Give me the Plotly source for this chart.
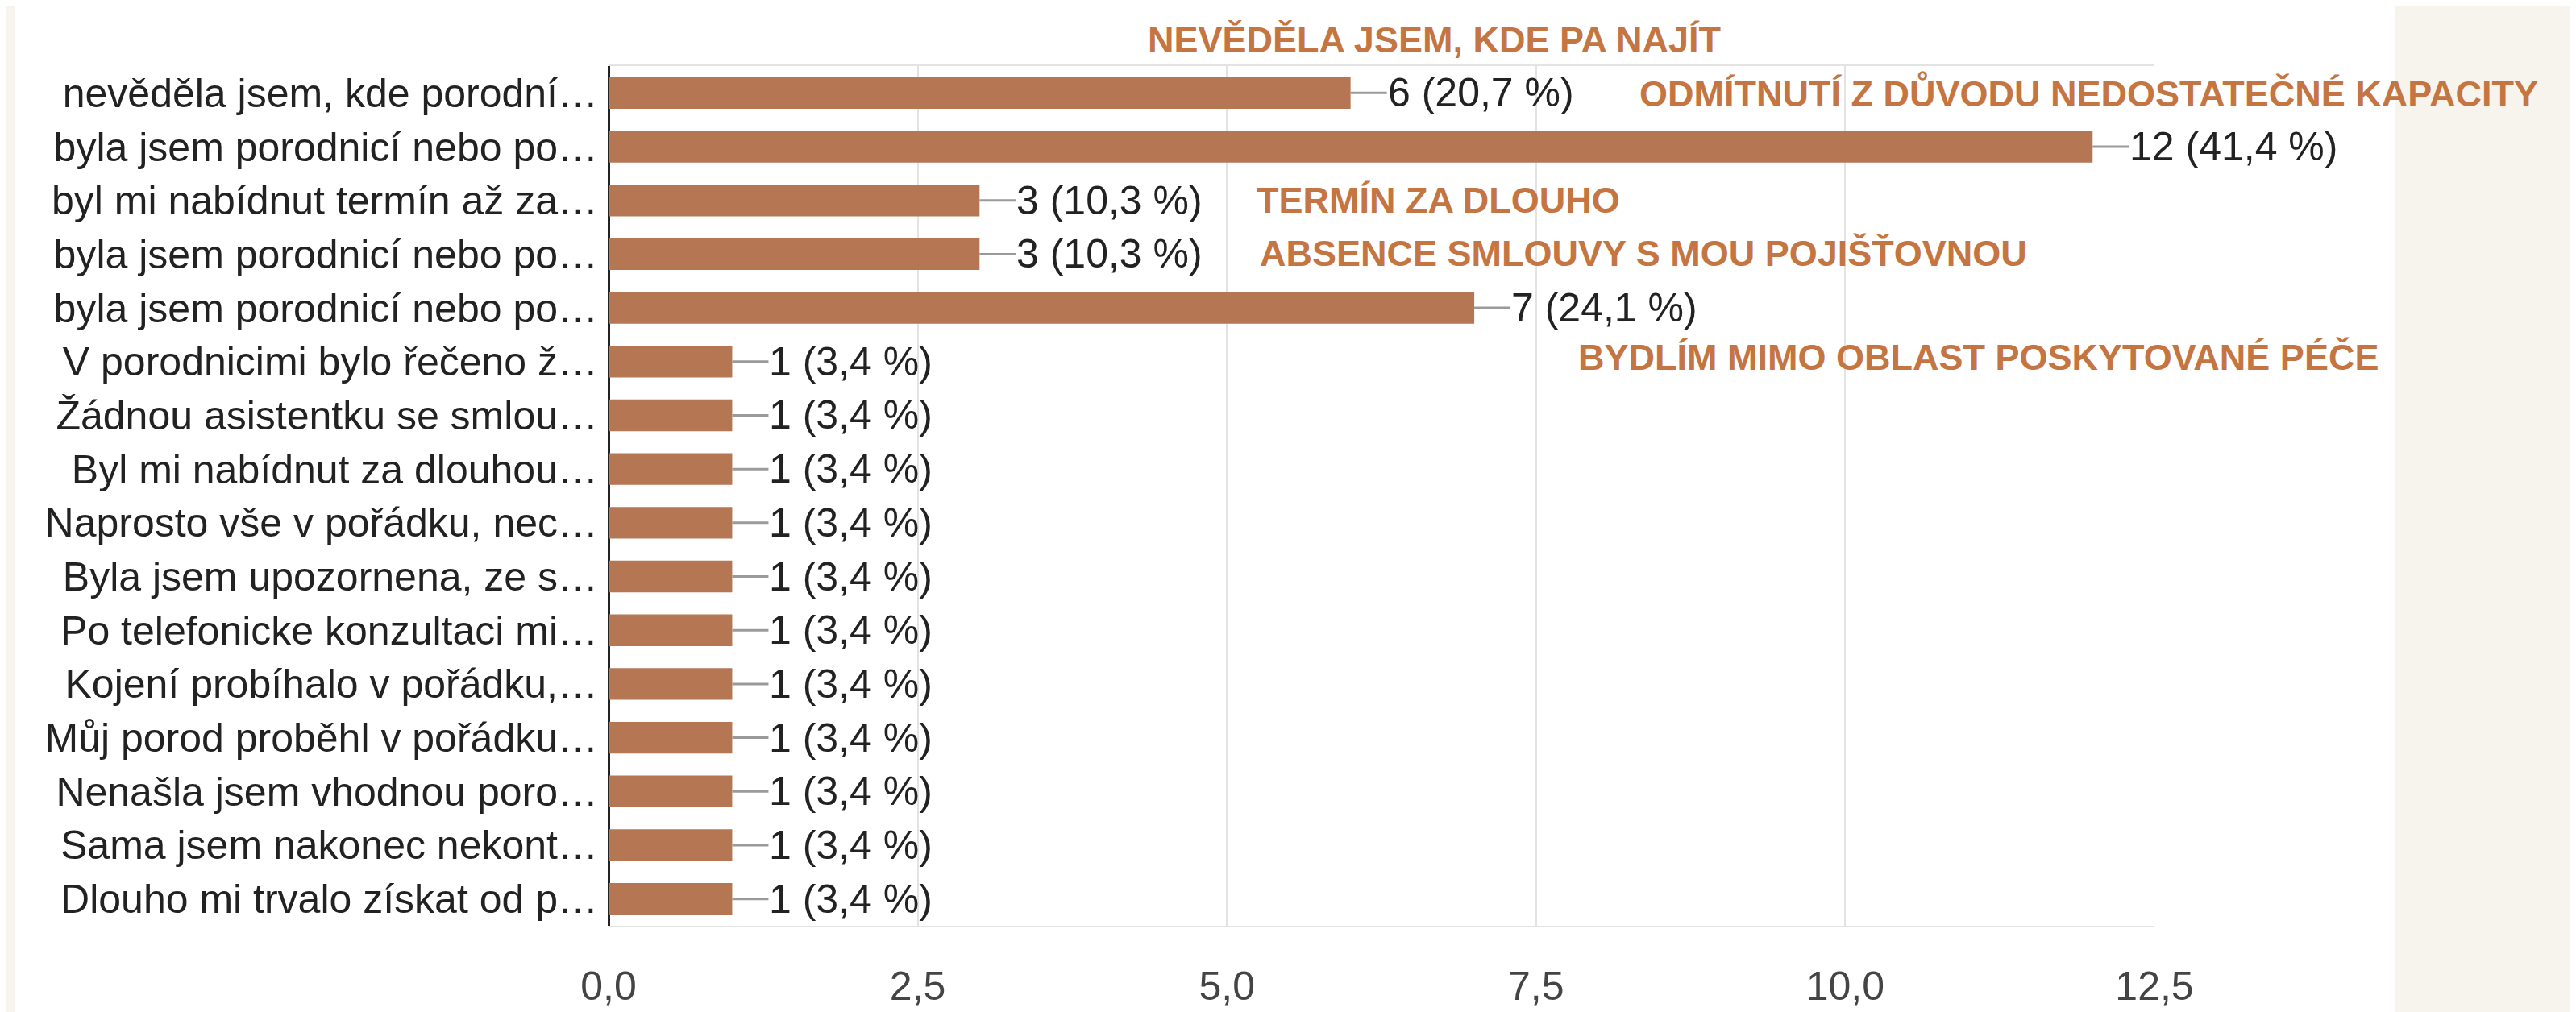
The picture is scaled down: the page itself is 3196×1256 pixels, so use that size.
import plotly.graph_objects as go

# ---------------- data ----------------
labels = [
    "nevěděla jsem, kde porodní…",
    "byla jsem porodnicí nebo po…",
    "byl mi nabídnut termín až za…",
    "byla jsem porodnicí nebo po…",
    "byla jsem porodnicí nebo po…",
    "V porodnicimi bylo řečeno ž…",
    "Žádnou asistentku se smlou…",
    "Byl mi nabídnut za dlouhou…",
    "Naprosto vše v pořádku, nec…",
    "Byla jsem upozornena, ze s…",
    "Po telefonicke konzultaci mi…",
    "Kojení probíhalo v pořádku,…",
    "Můj porod proběhl v pořádku…",
    "Nenašla jsem vhodnou poro…",
    "Sama jsem nakonec nekont…",
    "Dlouho mi trvalo získat od p…",
]
counts = [6, 12, 3, 3, 7, 1, 1, 1, 1, 1, 1, 1, 1, 1, 1, 1]
percents = ["20,7", "41,4", "10,3", "10,3", "24,1", "3,4", "3,4", "3,4",
            "3,4", "3,4", "3,4", "3,4", "3,4", "3,4", "3,4", "3,4"]

x_tick_values = [0, 2.5, 5, 7.5, 10, 12.5]
x_tick_labels = ["0,0", "2,5", "5,0", "7,5", "10,0", "12,5"]

callout_texts = [
    "NEVĚDĚLA JSEM, KDE PA NAJÍT",
    "ODMÍTNUTÍ Z DŮVODU NEDOSTATEČNÉ KAPACITY",
    "TERMÍN ZA DLOUHO",
    "ABSENCE SMLOUVY S MOU POJIŠŤOVNOU",
    "BYDLÍM MIMO OBLAST POSKYTOVANÉ PÉČE",
]

# ---------------- styling ----------------
BAR = "#B57654"
ORANGE = "#C47542"
CREAM = "#F7F4ED"
BASE_FONT = "Liberation Sans, Arial, Helvetica, sans-serif"
CALLOUT_FONT = "Liberation Sans, Arial, sans-serif"

rows = list(range(len(labels)))

fig = go.Figure()
fig.add_trace(go.Bar(
    x=counts, y=rows, orientation="h",
    marker=dict(color=BAR, line=dict(width=0)),
    width=0.59, hoverinfo="skip", showlegend=False,
))

annotations = []
for r, c, p in zip(rows, counts, percents):
    annotations.append(dict(
        x=c, y=r, xref="x", yref="y",
        text=f"{c} ({p} %)",
        showarrow=True, ax=45, ay=0, axref="pixel", ayref="pixel",
        arrowhead=0, arrowwidth=3, arrowcolor="#9a9a9a",
        standoff=0, startstandoff=0, borderpad=0,
        xanchor="left", yanchor="middle",
        font=dict(family=BASE_FONT, size=50, color="#222222"),
    ))

# callout positions in paper coordinates of the plot area
callout_pos = [(0.3478, 1.0302), (0.6658, 0.9689), (0.4181, 0.8436),
               (0.4202, 0.7822), (0.6262, 0.6615)]
for t, (cx, cy) in zip(callout_texts, callout_pos):
    annotations.append(dict(
        x=cx, y=cy, xref="paper", yref="paper", text=t, showarrow=False,
        xanchor="left", yanchor="middle",
        font=dict(family=CALLOUT_FONT, size=45, color=ORANGE, weight="bold"),
    ))

plot_l, plot_r = 747, 2665
plot_w = plot_r - plot_l

fig.update_layout(
    width=3196, height=1256, autosize=False,
    margin=dict(l=plot_l, r=3196 - plot_r, t=74, b=89, pad=0),
    paper_bgcolor=CREAM, plot_bgcolor="white",
    font=dict(family=BASE_FONT, size=50, color="#222222"),
    bargap=0.41,
    annotations=annotations,
    shapes=[dict(
        type="rect", xref="paper", yref="paper", layer="below",
        x0=(10 - plot_l) / plot_w, x1=(2963 - plot_l) / plot_w,
        y0=-0.2, y1=1.2, fillcolor="white", line=dict(width=0),
    )],
    xaxis=dict(
        range=[0, 12.5], tickvals=x_tick_values, ticktext=x_tick_labels,
        showgrid=True, gridcolor="#e3e3e3", gridwidth=2,
        showline=True, mirror=True, linecolor="#e3e3e3", linewidth=2,
        zeroline=True, zerolinecolor="#222222", zerolinewidth=3,
        ticks="outside", ticklen=30, tickcolor="rgba(0,0,0,0)",
        tickfont=dict(size=50, color="#444444"), fixedrange=True,
    ),
    yaxis=dict(
        range=[15.5, -0.5], tickvals=rows, ticktext=labels,
        showgrid=False, zeroline=False, showline=False,
        ticks="outside", ticklen=2, tickcolor="rgba(0,0,0,0)",
        tickfont=dict(size=50, color="#222222"), fixedrange=True,
    ),
)

fig.write_html("out.html")
